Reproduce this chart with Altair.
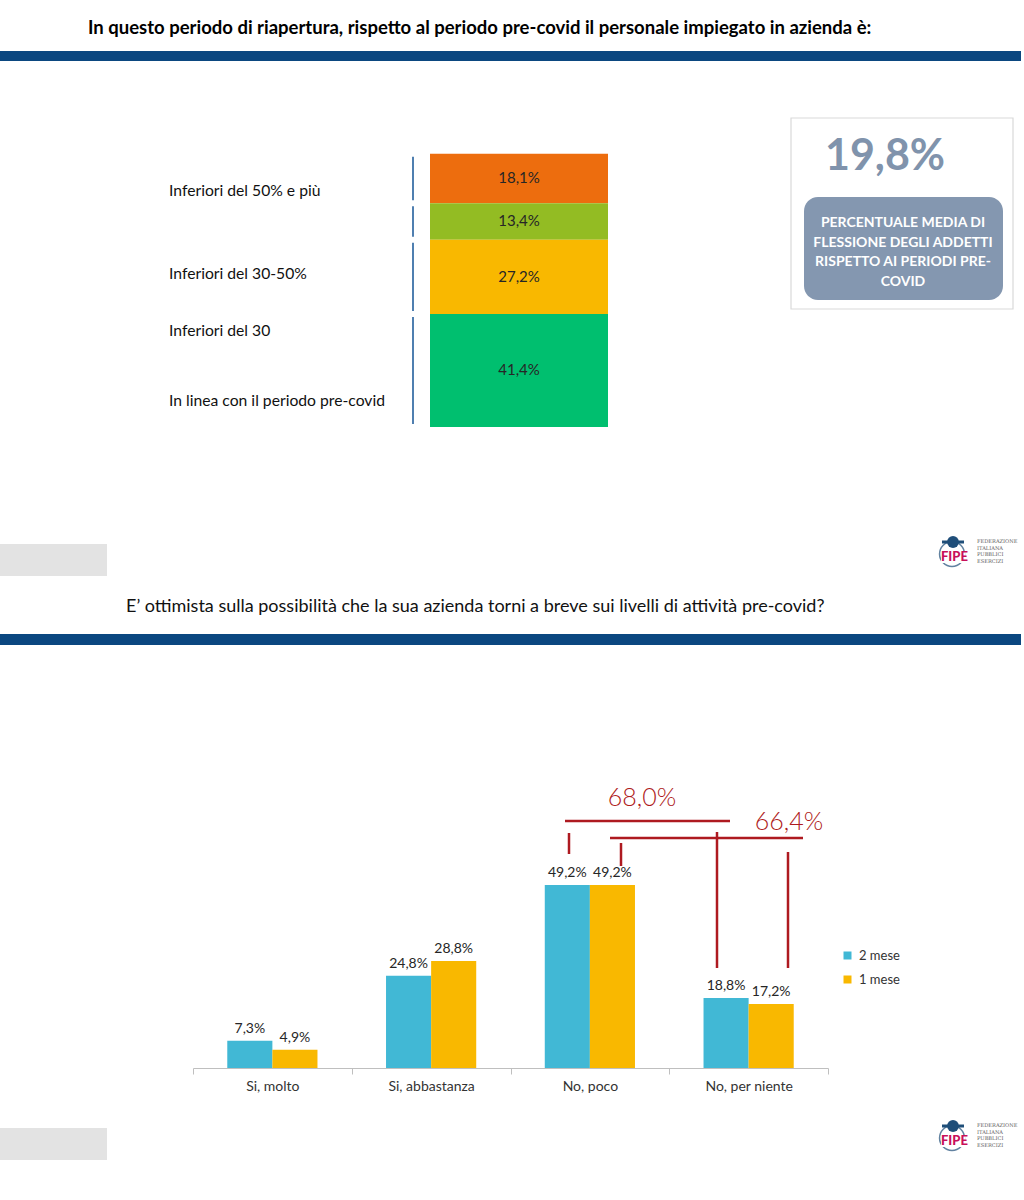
import altair as alt
import pandas as pd

FONT = "Lato"

# ---- Survey 1: staff employed now vs. pre-covid (single stacked bar) ----
staff_segments = ["s1", "s2", "s3", "s4"]          # top to bottom
staff_values = [18.1, 13.4, 27.2, 41.4]
staff_labels = ["18,1%", "13,4%", "27,2%", "41,4%"]
staff_colors = ["#ED6D0E", "#93BC23", "#F9B800", "#00BF6F"]
staff_categories = [
    "Inferiori del 50% e più",
    "Inferiori del 30-50%",
    "Inferiori del 30",
    "In linea con il periodo pre-covid",
]
avg_drop_label = "19,8%"
avg_drop_text = ["PERCENTUALE MEDIA DI", "FLESSIONE DEGLI ADDETTI",
                 "RISPETTO AI PERIODI PRE-", "COVID"]

# ---- Survey 2: optimism about returning to pre-covid activity ----
answers = ["Si, molto", "Si, abbastanza", "No, poco", "No, per niente"]
series = ["2 mese", "1 mese"]
values_2_mese = [7.3, 24.8, 49.2, 18.8]
values_1_mese = [4.9, 28.8, 49.2, 17.2]
series_colors = ["#41B8D5", "#F9B800"]

TITLE_1 = "In questo periodo di riapertura, rispetto al periodo pre-covid il personale impiegato in azienda è:"
TITLE_2 = "E’ ottimista sulla possibilità che la sua azienda torni a breve sui livelli di attività pre-covid?"


def pct(v):
    return f"{v:.1f}%".replace(".", ",")


one = pd.DataFrame({"k": [0]})


def rect(x, y, x2, y2, **style):
    return alt.Chart(one).mark_rect(**style).encode(
        x=alt.value(x), x2=alt.value(x2), y=alt.value(y), y2=alt.value(y2))


def rule(x, y, x2, y2, **style):
    return alt.Chart(one).mark_rule(**style).encode(
        x=alt.value(x), x2=alt.value(x2), y=alt.value(y), y2=alt.value(y2))


def label(text, x, y, **style):
    opts = dict(font=FONT, baseline="middle", align="left")
    opts.update(style)
    return alt.Chart(one).mark_text(text=text, **opts).encode(
        x=alt.value(x), y=alt.value(y))


def fipe_logo(ox, oy):
    blue = "#1F4E79"
    parts = [
        alt.Chart(one).mark_point(filled=False, size=620, color=blue, strokeWidth=1.5).encode(
            x=alt.value(ox + 12), y=alt.value(oy + 19)),
        rule(ox + 2, oy + 7, ox + 24, oy + 7, color=blue, strokeWidth=3),
        alt.Chart(one).mark_point(filled=True, size=140, color=blue, opacity=1).encode(
            x=alt.value(ox + 13), y=alt.value(oy + 7)),
        rect(ox + 1, oy + 16, ox + 25, oy + 28, color="#FFFFFF"),
        label("FIPE", ox + 1, oy + 22, fontSize=13, fontWeight=900, color="#C8105A"),
    ]
    for i, w in enumerate(["FEDERAZIONE", "ITALIANA", "PUBBLICI", "ESERCIZI"]):
        parts.append(label(w, ox + 37, oy + 6 + i * 6.5, fontSize=5.1,
                           font="DejaVu Serif", color="#666666"))
    return parts


# ---------------- decorations / slide chrome ----------------
decor = [
    label(TITLE_1, 88, 28, fontSize=18.5, fontWeight="bold", color="#000000"),
    rect(0, 51, 1021, 61, color="#0B4780"),
    rect(0, 544, 107, 576, color="#E3E3E3"),
    label(TITLE_2, 126, 607, fontSize=18, color="#111111"),
    rect(0, 634, 1021, 645, color="#0B4780"),
    rect(0, 1128, 107, 1160, color="#E3E3E3"),
    # summary box
    rect(791, 118, 1013, 309, fill="#FFFFFF", stroke="#D9D9D9", strokeWidth=1.2),
    label(avg_drop_label, 885, 157, fontSize=43, fontWeight="bold", color="#8093AC",
          align="center"),
    rect(804, 197, 1003, 300, color="#8497B0", cornerRadius=14),
]
for i, line in enumerate(avg_drop_text):
    decor.append(label(line, 903, 223 + i * 19.5, fontSize=14, fontWeight="bold",
                       color="#FFFFFF", align="center"))
for name, yy in zip(staff_categories, [191, 274, 331, 401]):
    decor.append(label(name, 169, yy, fontSize=15.7, color="#111111"))
decor += fipe_logo(940, 535) + fipe_logo(940, 1119)

# ---------------- top chart: stacked bar ----------------
staff_df = pd.DataFrame({
    "bar": "Personale",
    "seg": staff_segments,
    "value": staff_values,
    "label": staff_labels,
    "order": list(range(len(staff_segments), 0, -1)),
})
x_top = alt.Scale(domain=["Personale"], range=[430, 608], paddingInner=0, paddingOuter=0)
y_top = alt.Scale(domain=[0, 100], range=[427, 154], nice=False, zero=True)

base_top = alt.Chart(staff_df).transform_stack(
    stack="value", as_=["y0", "y1"], groupby=["bar"],
    sort=[alt.SortField("order", order="ascending")],
).transform_calculate(mid="(datum.y0 + datum.y1) / 2")

top_bars = base_top.mark_bar().encode(
    x=alt.X("bar:N", scale=x_top, axis=None),
    y=alt.Y("y0:Q", scale=y_top, axis=None),
    y2="y1:Q",
    color=alt.Color("seg:N", scale=alt.Scale(domain=staff_segments, range=staff_colors),
                    legend=None),
)
top_text = base_top.mark_text(font=FONT, fontSize=15, color="#262626").encode(
    x=alt.X("bar:N", scale=x_top, axis=None),
    y=alt.Y("mid:Q", scale=y_top, axis=None),
    text="label:N",
)
top_brackets = base_top.mark_rule(color="#4F7FB0", strokeWidth=2, yOffset=-3, y2Offset=3).encode(
    x=alt.value(413),
    y=alt.Y("y0:Q", scale=y_top, axis=None),
    y2="y1:Q",
)
top_chart = alt.layer(top_bars, top_text, top_brackets)

# ---------------- bottom chart: grouped bars ----------------
resp_rows = []
for s, vals in zip(series, [values_2_mese, values_1_mese]):
    for a, v in zip(answers, vals):
        resp_rows.append({"answer": a, "series": s, "value": v, "label": pct(v)})
resp_df = pd.DataFrame(resp_rows)

x_bot = alt.Scale(domain=answers, range=[193, 828], paddingInner=0, paddingOuter=0)
xo_bot = alt.Scale(domain=series, paddingInner=0, paddingOuter=0.76)
y_bot = alt.Scale(domain=[0, 49.2], range=[1068, 885], nice=False, zero=True)

x_enc = alt.X("answer:N", scale=x_bot, sort=answers, title=None, axis=alt.Axis(
    orient="bottom", offset=-132, labelAngle=0, domainColor="#BFBFBF",
    tickColor="#BFBFBF", tickSize=6, tickBand="extent", labelFontSize=14,
    labelColor="#333333", labelFont=FONT, labelPadding=5, grid=False))

bot_bars = alt.Chart(resp_df).mark_bar().encode(
    x=x_enc,
    xOffset=alt.XOffset("series:N", scale=xo_bot, sort=series),
    y=alt.Y("value:Q", scale=y_bot, axis=None),
    color=alt.Color("series:N", sort=series,
                    scale=alt.Scale(domain=series, range=series_colors),
                    legend=alt.Legend(orient="none", legendX=841, legendY=949, title=None,
                                      symbolType="square", symbolSize=64,
                                      symbolStrokeWidth=0, labelFont=FONT,
                                      labelFontSize=13, labelColor="#333333",
                                      rowPadding=10, labelOffset=5)),
)
bot_text = alt.Chart(resp_df).mark_text(font=FONT, fontSize=14, color="#262626",
                                        baseline="bottom", dy=-5).encode(
    x=x_enc,
    xOffset=alt.XOffset("series:N", scale=xo_bot, sort=series),
    y=alt.Y("value:Q", scale=y_bot, axis=None),
    text="label:N",
)
bottom_chart = alt.layer(bot_bars, bot_text)

# ---------------- hand-drawn totals (No, poco + No, per niente) ----------------
RED = "#AE1A20"
total_2 = pct(values_2_mese[2] + values_2_mese[3])
total_1 = pct(values_1_mese[2] + values_1_mese[3])
notes = [
    rule(565, 821, 730, 821, color=RED, strokeWidth=2.5),
    rule(569, 833, 569, 854, color=RED, strokeWidth=2.5),
    rule(610, 838, 803, 838, color=RED, strokeWidth=2.5),
    rule(621, 843, 621, 866, color=RED, strokeWidth=2.5),
    rule(717, 832, 717, 968, color=RED, strokeWidth=2.5),
    rule(788, 852, 788, 968, color=RED, strokeWidth=2.5),
    label(total_2, 642, 798, fontSize=25, fontWeight=300, color=RED, align="center"),
    label(total_1, 789, 822, fontSize=25, fontWeight=300, color=RED, align="center"),
]

chart = alt.layer(*decor, top_chart, bottom_chart, *notes).resolve_scale(
    x="independent", y="independent", color="independent"
).properties(
    width=1024, height=1200, autosize=alt.AutoSizeParams(type="none"), padding=0,
    background="#FFFFFF",
).configure_view(strokeWidth=0)

chart.save("out.html", embed_options={"renderer": "svg", "actions": False})
